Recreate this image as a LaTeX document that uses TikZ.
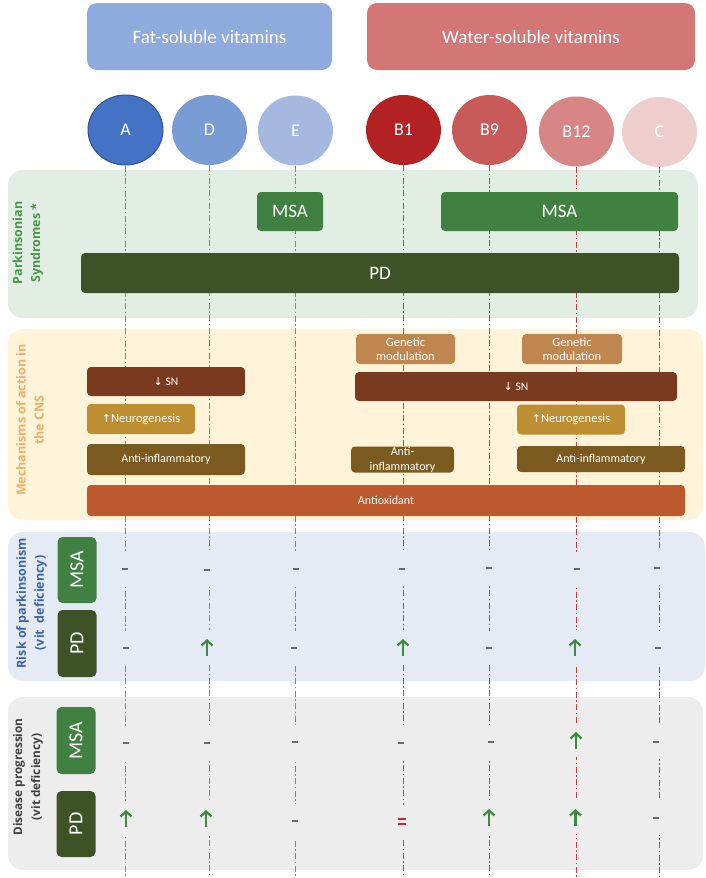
\documentclass[tikz,border=0pt]{standalone}
\usepackage{fontspec}
\setmainfont{Carlito}
\newfontfamily\lblfont{Open Sans}
\newfontfamily\symf{DejaVu Sans}
\usetikzlibrary{shapes.geometric,arrows.meta}
\definecolor{fathdr}{RGB}{143,170,220}
\definecolor{waterhdr}{RGB}{211,118,118}
\definecolor{vA}{RGB}{68,114,196}
\definecolor{vAb}{RGB}{47,82,143}
\definecolor{vD}{RGB}{122,156,212}
\definecolor{vE}{RGB}{165,185,224}
\definecolor{vBa}{RGB}{178,34,34}
\definecolor{vBb}{RGB}{200,90,90}
\definecolor{vBc}{RGB}{216,133,133}
\definecolor{vC}{RGB}{238,205,205}
\definecolor{pone}{RGB}{226,238,227}
\definecolor{ptwo}{RGB}{255,243,217}
\definecolor{pthree}{RGB}{228,235,245}
\definecolor{pfour}{RGB}{237,237,237}
\definecolor{msagreen}{RGB}{64,128,64}
\definecolor{pdgreen}{RGB}{61,82,38}
\definecolor{lgreen}{RGB}{70,150,70}
\definecolor{lorange}{RGB}{240,175,100}
\definecolor{lblue}{RGB}{60,100,170}
\definecolor{ldark}{RGB}{64,64,64}
\definecolor{genc}{RGB}{192,134,80}
\definecolor{snc}{RGB}{122,58,30}
\definecolor{neuc}{RGB}{190,142,50}
\definecolor{aic}{RGB}{122,90,30}
\definecolor{oxc}{RGB}{188,90,46}
\definecolor{blinec}{RGB}{95,135,215}
\definecolor{rlinec}{RGB}{215,55,55}
\definecolor{dashgray}{RGB}{105,105,105}
\definecolor{arrgreen}{RGB}{60,140,60}
\definecolor{eqred}{RGB}{200,40,40}
\tikzset{
  hdr/.style={rounded corners=10pt, minimum height=67pt, inner sep=0pt, text=white, font=\fontsize{19}{22}\selectfont},
  vit/.style={ellipse, minimum width=75pt, minimum height=70pt, inner sep=0pt, text=white, font=\fontsize{18}{21}\selectfont},
  panel/.style={rounded corners=15pt, inner sep=0pt},
  box/.style={rounded corners=4pt, inner sep=0pt, text=white, align=center},
  lbl/.style={rotate=90, align=center, font=\lblfont\bfseries\fontsize{12.5}{18}\selectfont},
  side/.style={rotate=90, rounded corners=5pt, minimum width=66pt, minimum height=39pt, inner sep=0pt, text=white, font=\fontsize{20}{24}\selectfont},
  bline/.style={draw=blinec, line width=1.2pt, dash pattern=on 6pt off 2.5pt on 1.5pt off 2.5pt},
  rline/.style={draw=rlinec, line width=1.3pt, dash pattern=on 6pt off 2.5pt on 1.5pt off 2.5pt},
  sym/.style={minimum width=18pt, minimum height=34pt, inner sep=0pt},
  dashsym/.style={sym, path picture={\draw[dashgray, line width=2pt] ([xshift=-3pt]path picture bounding box.center) -- ([xshift=3pt]path picture bounding box.center);}},
  upsym/.style={sym, path picture={\draw[arrgreen, line width=2.2pt, -{Straight Barb[length=5pt,width=11pt]}] ([yshift=-9pt]path picture bounding box.center) -- ([yshift=8pt]path picture bounding box.center);}},
  eqsym/.style={sym, path picture={\draw[eqred, line width=1.8pt] ([xshift=-4pt,yshift=2.2pt]path picture bounding box.center) -- ([xshift=4pt,yshift=2.2pt]path picture bounding box.center) ([xshift=-4pt,yshift=-2.2pt]path picture bounding box.center) -- ([xshift=4pt,yshift=-2.2pt]path picture bounding box.center);}},
}
\begin{document}
\begin{tikzpicture}[x=1pt,y=-1pt]
\useasboundingbox (0,0) rectangle (706,878);
% headers
\node[hdr, fill=fathdr, minimum width=245pt] (fat) at (209.5,36.5) {Fat-soluble vitamins};
\node[hdr, fill=waterhdr, minimum width=328pt] (water) at (531,36.5) {Water-soluble vitamins};
% panels
\node[panel, fill=pone, minimum width=690pt, minimum height=148pt] (P1) at (353,244) {};
\node[panel, fill=ptwo, minimum width=695pt, minimum height=191pt] (P2) at (355.5,424.5) {};
\node[panel, fill=pthree, minimum width=697pt, minimum height=149pt] (P3) at (356.5,606.5) {};
\node[panel, fill=pfour, minimum width=695pt, minimum height=173pt] (P4) at (355.5,783.5) {};
% vitamins
\node[vit, fill=vA, draw=vAb, line width=1pt] (cA) at (125.5,130) {A};
\node[vit, fill=vD] (cD) at (209.5,130) {D};
\node[vit, fill=vE] (cE) at (295.5,130.5) {E};
\node[vit, fill=vBa] (cB1) at (403.5,130) {B1};
\node[vit, fill=vBb] (cB9) at (489.5,130) {B9};
\node[vit, fill=vBc] (cB12) at (576.5,131.5) {B12};
\node[vit, fill=vC] (cC) at (659.5,132) {C};
% line ends
\coordinate (eA) at (125.5,878);
\coordinate (eD) at (209.5,878);
\coordinate (eE) at (295.5,878);
\coordinate (eB1) at (403.5,878);
\coordinate (eB9) at (489.5,878);
\coordinate (eB12) at (576.5,878);
\coordinate (eC) at (659.5,878);
\draw[bline] (cA.south) -- (eA);
\draw[bline] (cD.south) -- (eD);
\draw[bline] (cE.south) -- (eE);
\draw[rline] (cB1.south) -- (eB1);
\draw[rline] (cB9.south) -- (eB9);
\draw[rline] (cB12.south) -- (eB12);
\draw[rline] (cC.south) -- (eC);
% panel labels
\node[lbl, text=lgreen] (L1) at (28,243) {Parkinsonian\\Syndromes *};
\node[lbl, text=lorange] (L2) at (30,420) {Mechanisms of action in\\the CNS};
\node[lbl, text=lblue] (L3) at (31.5,603) {Risk of parkinsonism\\(vit\ \ deficiency)};
\node[lbl, text=ldark, font=\lblfont\bfseries\fontsize{11.8}{18}\selectfont] (L4) at (28,777) {Disease progression\\(vit deficiency)};
% panel 1
\node[box, fill=msagreen, minimum width=66pt, minimum height=39pt, font=\fontsize{19}{22}\selectfont] (msa1) at (290,211.5) {MSA};
\node[box, fill=msagreen, minimum width=237pt, minimum height=39pt, font=\fontsize{19}{22}\selectfont] (msa2) at (559.5,211.5) {MSA};
\node[box, fill=pdgreen, minimum width=598pt, minimum height=40pt, font=\fontsize{19}{22}\selectfont] (pd1) at (380,273) {PD};
% panel 2
\node[box, fill=genc, minimum width=99pt, minimum height=30pt, font=\fontsize{12.5}{14}\selectfont] (gen1) at (405.5,349) {Genetic\\modulation};
\node[box, fill=genc, minimum width=100pt, minimum height=30pt, font=\fontsize{12.5}{14}\selectfont] (gen2) at (572,349) {Genetic\\modulation};
\node[box, fill=snc, minimum width=158pt, minimum height=29pt, font=\fontsize{11.5}{13}\selectfont] (sn1) at (166,381.5) {{\symf\fontsize{11}{12}\selectfont ↓} SN};
\node[box, fill=snc, minimum width=322pt, minimum height=29pt, font=\fontsize{11.5}{13}\selectfont] (sn2) at (516,386.5) {{\symf\fontsize{11}{12}\selectfont ↓} SN};
\node[box, fill=neuc, minimum width=108pt, minimum height=30pt, font=\fontsize{12.5}{14}\selectfont] (neu1) at (141,419) {{\symf\fontsize{11}{12}\selectfont ↑}Neurogenesis};
\node[box, fill=neuc, minimum width=108pt, minimum height=30pt, font=\fontsize{12.5}{14}\selectfont] (neu2) at (571,419.5) {{\symf\fontsize{11}{12}\selectfont ↑}Neurogenesis};
\node[box, fill=aic, minimum width=158pt, minimum height=31pt, font=\fontsize{12}{14}\selectfont] (ai1) at (166,459.5) {Anti-inflammatory};
\node[box, fill=aic, minimum width=103pt, minimum height=26pt, font=\fontsize{12}{15}\selectfont] (ai2) at (402.5,459.5) {Anti-\\inflammatory};
\node[box, fill=aic, minimum width=168pt, minimum height=26pt, font=\fontsize{12}{14}\selectfont] (ai3) at (601,459) {Anti-inflammatory};
\node[box, fill=oxc, minimum width=598pt, minimum height=31pt, font=\fontsize{12}{14}\selectfont] (ox) at (386,500.5) {Antioxidant};
% panel 3
\node[side, fill=msagreen, minimum width=66pt] (msa3) at (77,570) {MSA};
\node[side, fill=pdgreen, minimum width=67pt] (pd3) at (77,643.5) {PD};
\node[dashsym, fill=pthree] (r1A) at (125,569) {};
\node[dashsym, fill=pthree] (r1D) at (207,570) {};
\node[dashsym, fill=pthree] (r1E) at (295.5,569) {};
\node[dashsym, fill=pthree] (r1B1) at (402,569) {};
\node[dashsym, fill=pthree] (r1B9) at (489,568) {};
\node[dashsym, fill=pthree] (r1B12) at (577,569) {};
\node[dashsym, fill=pthree] (r1C) at (657,568) {};
\node[dashsym, fill=pthree] (r2A) at (126,648) {};
\node[upsym, fill=pthree] (r2D) at (207,647) {};
\node[dashsym, fill=pthree] (r2E) at (294,648) {};
\node[upsym, fill=pthree] (r2B1) at (403,647) {};
\node[dashsym, fill=pthree] (r2B9) at (489,648) {};
\node[upsym, fill=pthree] (r2B12) at (575,647) {};
\node[dashsym, fill=pthree] (r2C) at (658,648) {};
% panel 4
\node[side, fill=msagreen, minimum width=67pt] (msa4) at (76,740.5) {MSA};
\node[side, fill=pdgreen, minimum width=66pt] (pd4) at (76,824) {PD};
\node[dashsym, fill=pfour] (p1A) at (126,743) {};
\node[dashsym, fill=pfour] (p1D) at (207,743) {};
\node[dashsym, fill=pfour] (p1E) at (295,742) {};
\node[dashsym, fill=pfour] (p1B1) at (401,743) {};
\node[dashsym, fill=pfour] (p1B9) at (491,742) {};
\node[upsym, fill=pfour] (p1B12) at (576,740) {};
\node[dashsym, fill=pfour] (p1C) at (656,742) {};
\node[upsym, fill=pfour] (p2A) at (126,818) {};
\node[upsym, fill=pfour] (p2D) at (206,818) {};
\node[dashsym, fill=pfour] (p2E) at (295,821) {};
\node[eqsym, fill=pfour] (p2B1) at (402,821.5) {};
\node[upsym, fill=pfour] (p2B9) at (489,817) {};
\node[upsym, fill=pfour] (p2B12) at (575.5,817) {};
\node[dashsym, fill=pfour] (p2C) at (656,818) {};
\end{tikzpicture}
\end{document}
